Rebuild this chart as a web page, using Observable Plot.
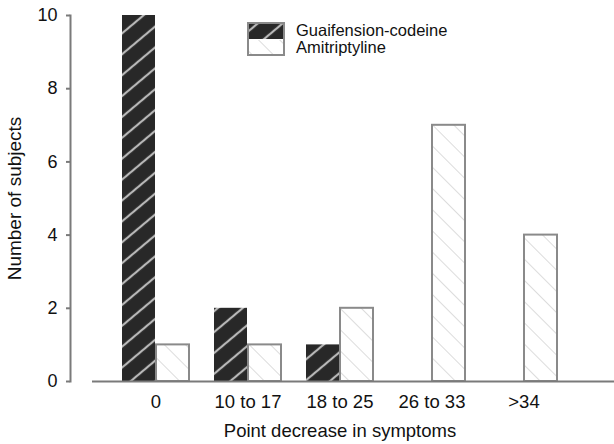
<!DOCTYPE html>
<html><head><meta charset="utf-8">
<script src="https://cdn.jsdelivr.net/npm/d3@7"></script>
<script src="https://cdn.jsdelivr.net/npm/@observablehq/plot@0.6"></script>
<style>
body{margin:0;background:#fff;font-family:"Liberation Sans",Arial,Helvetica,sans-serif}
#wrap{position:relative;width:614px;height:444px}
#legend{position:absolute;left:247px;top:22px}
</style>
</head><body><div id="wrap"></div>
<script>
const categories = ["0", "10 to 17", "18 to 25", "26 to 33", ">34"];
const guaifenesin = [10, 2, 1, 0, 0];
const amitriptyline = [1, 1, 2, 7, 4];
const yTicks = [0, 2, 4, 6, 8, 10];
const seriesNames = ["Guaifension-codeine", "Amitriptyline"];

const dataG = categories.map((c, i) => ({cat: c, v: guaifenesin[i]}));
const dataA = categories.map((c, i) => ({cat: c, v: amitriptyline[i]}));

const plot = Plot.plot({
  width: 614, height: 444,
  marginLeft: 70, marginRight: 5, marginTop: 15, marginBottom: 63,
  style: {fontFamily: '"Liberation Sans", Arial, sans-serif', fontSize: "18px", color: "#111", background: "transparent"},
  x: {domain: categories, paddingInner: 0.267, paddingOuter: 0.539},
  y: {domain: [0, 10]},
  marks: [
    Plot.frame({anchor: "left", stroke: "#7a7a7a", strokeWidth: 2}),
    Plot.axisY({ticks: yTicks, tickSize: 4, tickPadding: 9, stroke: "#7a7a7a", strokeWidth: 2, fill: "#111", fontSize: 18, label: null}),
    Plot.axisY({ticks: [], fill: "#111", fontSize: 19,
      label: "Number of subjects", labelAnchor: "center", labelArrow: "none", labelOffset: 63}),
    Plot.axisX({tickSize: 0, tickPadding: 13, fill: "#111", fontSize: 18.5,
      label: "Point decrease in symptoms", labelAnchor: "center", labelArrow: "none", labelOffset: 55}),
    Plot.barY(dataG, {x: "cat", y: "v", insetRight: 34, fill: "url(#hatchDark)"}),
    Plot.barY(dataA, {x: "cat", y: "v", insetLeft: 34, fill: "url(#hatchLight)", stroke: "#8a8a8a", strokeWidth: 2}),
    Plot.ruleY([0], {insetLeft: 22, insetRight: -5, stroke: "#7a7a7a", strokeWidth: 2})
  ]
});

const ns = "http://www.w3.org/2000/svg";
const defs = document.createElementNS(ns, "defs");
defs.innerHTML = `
<pattern id="hatchDark" patternUnits="userSpaceOnUse" width="16" height="16" patternTransform="rotate(50)">
  <rect width="16" height="16" fill="#282828"/>
  <line x1="8" y1="0" x2="8" y2="16" stroke="#b8b8b8" stroke-width="2.2"/>
</pattern>
<pattern id="hatchLight" patternUnits="userSpaceOnUse" width="15" height="15" patternTransform="rotate(-45)">
  <rect width="15" height="15" fill="#fff"/>
  <line x1="7.5" y1="0" x2="7.5" y2="15" stroke="#dcdcdc" stroke-width="1"/>
</pattern>`;
plot.insertBefore(defs, plot.firstChild);

const wrap = document.getElementById("wrap");
wrap.appendChild(plot);

// legend
const fills = ["url(#hatchDark)", "url(#hatchLight)"];
const leg = d3.select(wrap).append("svg").attr("id", "legend").attr("width", 220).attr("height", 40)
  .style("font-family", '"Liberation Sans", Arial, sans-serif');
const rows = leg.selectAll("g").data(seriesNames).join("g")
  .attr("transform", (d, i) => `translate(0,${i * 17})`);
rows.append("rect").attr("x", 1).attr("y", 1).attr("width", 36).attr("height", 16)
  .attr("fill", (d, i) => fills[i]);
leg.append("rect").attr("x", 1).attr("y", 1).attr("width", 36).attr("height", 32)
  .attr("fill", "none").attr("stroke", "#8a8a8a").attr("stroke-width", 2);
rows.append("text").attr("x", 49).attr("y", 14).attr("font-size", 16.5).attr("fill", "#111").text(d => d);
</script>
</body></html>
